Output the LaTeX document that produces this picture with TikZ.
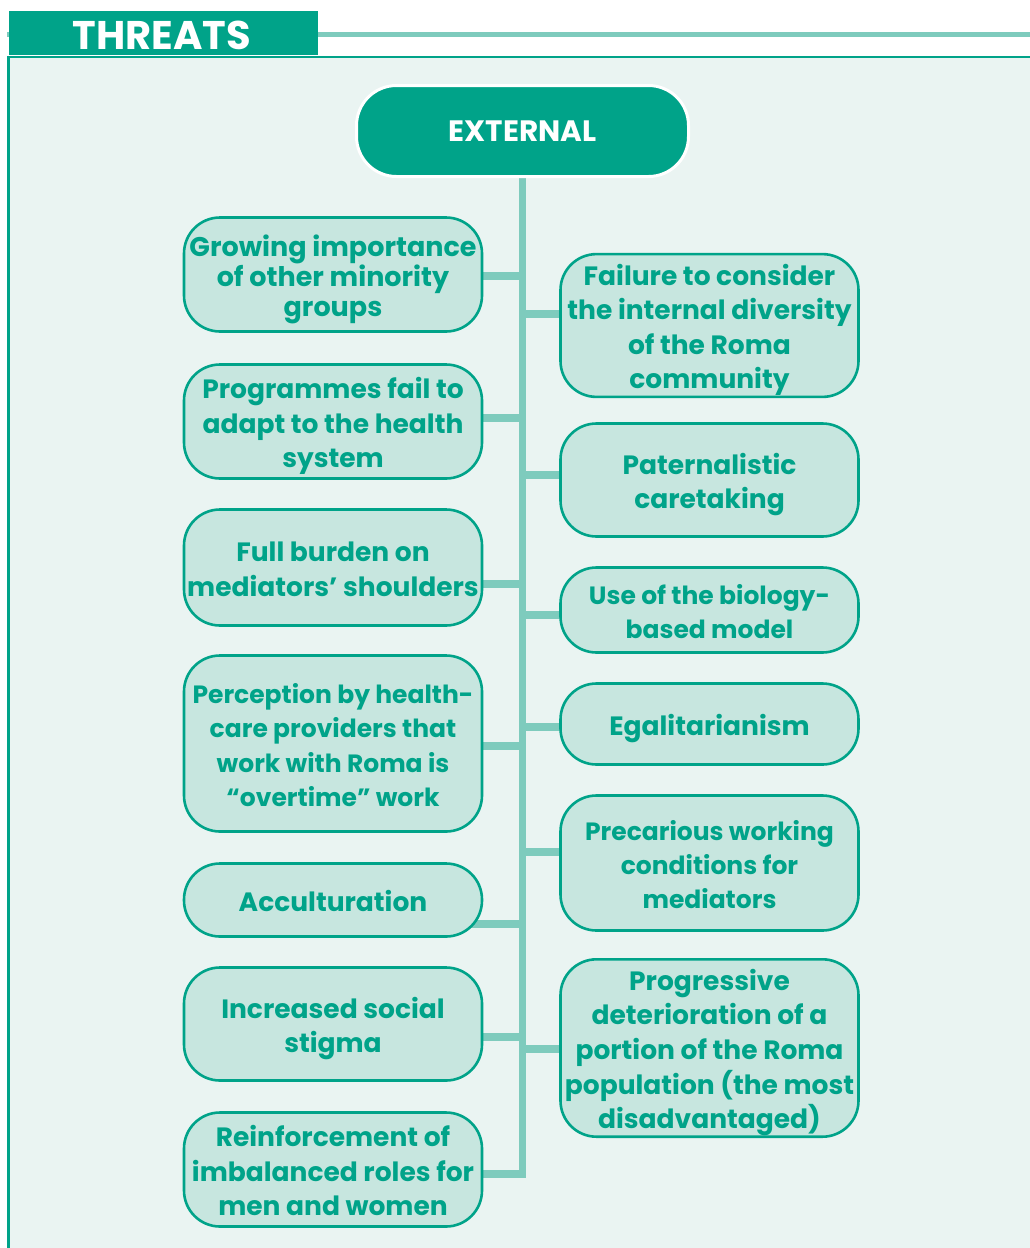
\documentclass[tikz,border=0pt]{standalone}
\usepackage{fontspec}
\setmainfont{Poppins}
\usetikzlibrary{positioning,backgrounds}
\definecolor{threatgreen}{HTML}{00A389}
\definecolor{branchteal}{HTML}{7ECBBD}
\definecolor{panelbg}{HTML}{EAF4F2}
\definecolor{boxfill}{HTML}{C7E6DF}
\newcommand\tstrut{\rule{0pt}{31pt}}
\newcommand\bstrut{\rule[-8pt]{0pt}{8pt}}
\tikzset{
  threat/.style={draw=threatgreen,line width=2.6pt,fill=boxfill,rounded corners=36pt,
    minimum width=298pt,text=threatgreen,align=center,inner sep=0pt,
    font=\fontsize{26.5}{34.6}\selectfont\bfseries},
  small/.style={font=\fontsize{25}{34.4}\selectfont\bfseries},
  branch/.style={draw=branchteal,line width=8pt},
}

\begin{document}
\begin{tikzpicture}[x=1pt,y=-1pt]
\useasboundingbox (0,0) rectangle (1030,1248);
\begin{scope}[on background layer]
\fill[white] (0,0) rectangle (1030,1248);
\fill[panelbg] (8,57) rectangle (1030,1248);
\end{scope}
\draw[threatgreen,line width=2.6pt] (8.7,1248) -- (8.7,57) -- (1030,57);
\draw[branchteal,line width=5pt] (7,34) -- (1030,34);
\fill[threatgreen] (9,11) rectangle (318,55);
\node[text=white,font=\fontsize{40}{40}\selectfont\bfseries] (title) at (162,35) {THREATS};

\node[fill=threatgreen,draw=white,line width=3pt,rounded corners=40pt,minimum width=332pt,
  minimum height=91pt,text=white,font=\fontsize{29.5}{30}\selectfont\bfseries] (ext) at (522.5,131) {EXTERNAL};

\node[threat,font=\fontsize{27}{30}\selectfont\bfseries,minimum height=114pt] (l1) at (333,274.5) {\tstrut Growing importance\\of other minority\\groups\bstrut};
\node[threat,minimum height=114pt] (l2) at (333,421.5) {\tstrut Programmes fail to\\adapt to the health\\system\bstrut};
\node[threat,minimum height=116pt] (l3) at (333,567.5) {\tstrut Full burden on\\mediators’ shoulders\bstrut};
\node[threat,small,minimum height=176pt] (l4) at (333,743.5) {\tstrut Perception by health-\\care providers that\\work with Roma is\\“overtime” work\bstrut};
\node[threat,minimum height=73pt] (l5) at (333,900) {\tstrut Acculturation\bstrut};
\node[threat,minimum height=113pt] (l6) at (333,1024) {\tstrut Increased social\\stigma\bstrut};
\node[threat,minimum height=114pt] (l7) at (333,1169.5) {\tstrut Reinforcement of\\imbalanced roles for\\men and women\bstrut};

\node[threat,minimum height=136pt] (r1) at (709.5,325.5) {\tstrut Failure to consider\\the internal diversity\\of the Roma\\community\bstrut};
\node[threat,minimum height=113pt] (r2) at (709.5,480) {\tstrut Paternalistic\\caretaking\bstrut};
\node[threat,small,minimum height=85pt] (r3) at (709.5,610) {\tstrut Use of the biology-\\based model\bstrut};
\node[threat,minimum height=81pt] (r4) at (709.5,724) {\tstrut Egalitarianism\bstrut};
\node[threat,small,minimum height=135pt] (r5) at (709.5,863) {\tstrut Precarious working\\conditions for\\mediators\bstrut};
\node[threat,minimum height=177pt] (r6) at (709.5,1048) {\tstrut Progressive\\deterioration of a\\portion of the Roma\\population (the most\\disadvantaged)\bstrut};

\begin{scope}[on background layer]
\draw[branchteal,line width=7pt] (ext.center) -- (ext.center |- 0,1178) coordinate (trunkend);
\foreach \n/\y in {l1/276,l2/418,l3/584,l4/746,l5/924,l6/1037,l7/1174}
  \draw[branch] (\n.center |- 0,\y) -- (ext.center |- 0,\y);
\foreach \n/\y in {r1/314,r2/474.5,r3/615,r4/727,r5/852,r6/1049}
  \draw[branch] (ext.center |- 0,\y) -- (\n.center |- 0,\y);
\end{scope}
\end{tikzpicture}
\end{document}
